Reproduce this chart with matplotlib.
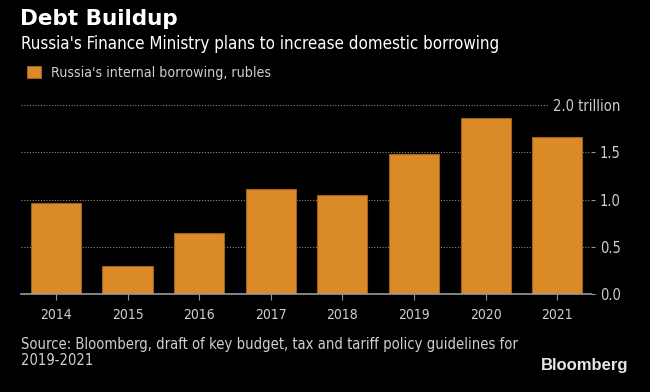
import matplotlib
matplotlib.use("Agg")
import matplotlib.pyplot as plt

years = ["2014", "2015", "2016", "2017", "2018", "2019", "2020", "2021"]
borrowing = [0.96, 0.30, 0.645, 1.11, 1.045, 1.485, 1.86, 1.66]
yticks = [0.0, 0.5, 1.0, 1.5, 2.0]
ytick_labels = ["0.0", "0.5", "1.0", "1.5", "2.0 trillion"]

orange = "#DB8A28"
grey = "#cfcfcf"

plt.rcParams["font.family"] = ["DejaVu Sans"]
plt.rcParams["font.stretch"] = "condensed"

fig = plt.figure(figsize=(6.5, 3.92), dpi=100, facecolor="black")
ax = fig.add_axes([0.032, 0.25, 0.877, 0.482], facecolor="black")

x = range(len(years))
ax.bar(x, borrowing, width=0.7, color=orange, edgecolor="#9c621e", linewidth=0.8,
       label="Russia's internal borrowing, rubles", zorder=3)

ax.set_xlim(-0.49, 7.47)
ax.set_ylim(0, 2.0)
ax.set_xticks(list(x))
ax.set_xticklabels(years, fontsize=10, color=grey)
ax.tick_params(axis="x", length=4, color="#9a9a9a", pad=6)

ax.yaxis.tick_right()
ax.set_yticks(yticks)
ax.set_yticklabels(ytick_labels, fontsize=10.5, color=grey)
ax.tick_params(axis="y", length=3, color="#9a9a9a", pad=18.5)
for lbl in ax.get_yticklabels():
    lbl.set_horizontalalignment("right")
ax.get_yticklabels()[-1].set_bbox(dict(facecolor="black", edgecolor="none", pad=4))

ax.grid(axis="y", color="#8a8a8a", linestyle=(0, (1, 1.5)), linewidth=0.8, zorder=0)
for side in ["top", "right", "left"]:
    ax.spines[side].set_visible(False)
ax.spines["bottom"].set_color("#9a9a9a")
ax.spines["bottom"].set_linewidth(1.2)
ax.spines["bottom"].set_zorder(4)

fig.text(0.031, 0.936, "Debt Buildup", fontsize=15.5, fontweight="bold", color="white",
         stretch="normal")
fig.text(0.032, 0.875, "Russia's Finance Ministry plans to increase domestic borrowing",
         fontsize=12.2, color="white")
fig.legend(loc="upper left", bbox_to_anchor=(0.022, 0.865), frameon=False, fontsize=10.2,
           labelcolor=grey, handlelength=1.0, handleheight=1.0, handletextpad=0.7)

fig.text(0.032, 0.07, "Source: Bloomberg, draft of key budget, tax and tariff policy guidelines for\n2019-2021",
         fontsize=10.6, color=grey, linespacing=1.05)
fig.text(0.967, 0.056, "Bloomberg", fontsize=12, fontweight="bold", color="#e6e6e6",
         ha="right", family="Liberation Sans", stretch="normal")

fig.savefig("out.png", dpi=100, facecolor="black")
